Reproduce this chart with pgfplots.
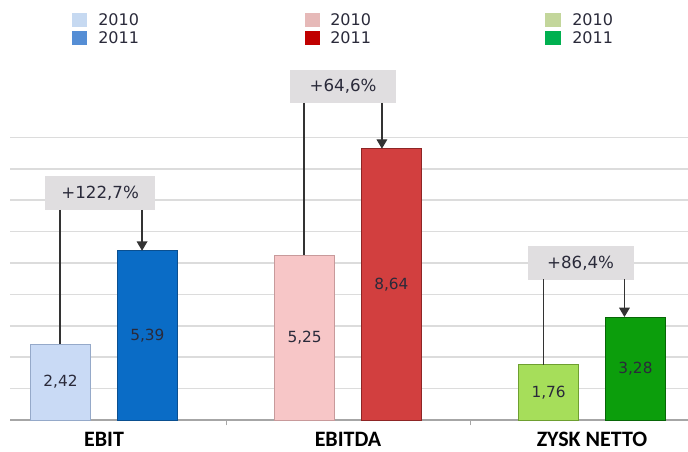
\documentclass[border=0pt]{standalone}
\usepackage{pgfplots}
\pgfplotsset{compat=1.18}
\usetikzlibrary{arrows.meta}
\usepackage{fontspec}
\setmainfont{DejaVu Sans}
\newfontfamily\carlito{Carlito}
\definecolor{axisgray}{HTML}{A6A6A6}
\definecolor{gridgray}{HTML}{DCDCDC}
\definecolor{boxgray}{HTML}{E0DEE0}
\definecolor{txt}{HTML}{2A2A3A}
\definecolor{ba}{HTML}{C9DAF5}\definecolor{bad}{HTML}{95A9C9}
\definecolor{bb}{HTML}{0A6CC6}\definecolor{bbd}{HTML}{0A4F90}
\definecolor{ra}{HTML}{F7C6C7}\definecolor{rad}{HTML}{C89A9B}
\definecolor{rb}{HTML}{D23F3F}\definecolor{rbd}{HTML}{8E2525}
\definecolor{ga}{HTML}{A6DE5A}\definecolor{gad}{HTML}{6E9F30}
\definecolor{gb}{HTML}{0C9E0C}\definecolor{gbd}{HTML}{076607}
\definecolor{lba}{HTML}{C6D9F1}\definecolor{lbb}{HTML}{558ED5}
\definecolor{lra}{HTML}{E6B9B8}\definecolor{lrb}{HTML}{C00000}
\definecolor{lga}{HTML}{C3D69B}\definecolor{lgb}{HTML}{00B050}
\begin{document}
\begin{tikzpicture}
\begin{axis}[
  anchor=origin, at={(78pt,-315pt)},
  x=183pt, y=23.55pt,
  xmin=-0.385, xmax=2.393, ymin=0, ymax=9,
  axis x line*=bottom, axis y line*=left,
  y axis line style={draw=none},
  x axis line style={draw=axisgray, line width=0.9pt},
  ytick={1,...,9}, yticklabels={}, ymajorgrids,
  grid style={draw=gridgray, line width=1.1pt},
  ytick style={draw=none},
  xtick={0,1,2}, xticklabels={EBIT,EBITDA,ZYSK NETTO},
  major tick length=0pt,
  extra x ticks={0.5,1.5}, extra x tick labels={},
  extra x tick style={major tick length=4pt, tick align=outside, tick style={draw=axisgray, line width=0.6pt}},
  xticklabel style={font=\carlito\bfseries\fontsize{16.5}{19}\selectfont, text=black, anchor=base, inner sep=0pt, yshift=-19.5pt},
  ybar, bar width=45pt,
  clip=false,
]
\addplot[ybar, bar shift=-32.6pt, fill=ba, draw=bad, line width=0.75pt] coordinates {(0,2.42)};
\addplot[ybar, bar shift=32.6pt, fill=bb, draw=bbd, line width=0.75pt] coordinates {(0,5.39)};
\addplot[ybar, bar shift=-32.6pt, fill=ra, draw=rad, line width=0.75pt] coordinates {(1,5.25)};
\addplot[ybar, bar shift=32.6pt, fill=rb, draw=rbd, line width=0.75pt] coordinates {(1,8.64)};
\addplot[ybar, bar shift=-32.6pt, fill=ga, draw=gad, line width=0.75pt] coordinates {(2,1.76)};
\addplot[ybar, bar shift=32.6pt, fill=gb, draw=gbd, line width=0.75pt] coordinates {(2,3.28)};

\tikzset{val/.style={font=\fontsize{11.5}{13}\selectfont, text=txt},
  pct/.style={fill=boxgray, inner sep=0pt, font=\fontsize{12.5}{14}\selectfont, text=txt, minimum height=25pt},
  conn/.style={draw=black!80, line width=0.9pt},
  arr/.style={draw=black!80, line width=0.9pt, -{Triangle[width=8pt,length=7pt]}}}

\node[val] at (axis cs:-0.178,1.21) {2,42};
\node[val] at (axis cs:0.178,2.695) {5,39};
\node[val] at (axis cs:0.822,2.625) {5,25};
\node[val] at (axis cs:1.178,4.32) {8,64};
\node[val] at (axis cs:1.822,0.88) {1,76};
\node[val] at (axis cs:2.178,1.64) {3,28};

\node[pct, minimum width=82.5pt] at (axis cs:-0.016,7.23) {+122,7\%};
\draw[conn] (axis cs:-0.18,6.69) -- (axis cs:-0.18,2.42);
\draw[arr] (axis cs:0.156,6.69) -- (axis cs:0.156,5.39);

\node[pct, minimum width=79.5pt] at (axis cs:0.98,10.62) {+64,6\%};
\draw[conn] (axis cs:0.82,10.1) -- (axis cs:0.82,5.25);
\draw[arr] (axis cs:1.139,10.1) -- (axis cs:1.139,8.64);

\node[pct, minimum width=79.5pt] at (axis cs:1.953,5.0) {+86,4\%};
\draw[conn] (axis cs:1.801,4.49) -- (axis cs:1.801,1.76);
\draw[arr] (axis cs:2.133,4.49) -- (axis cs:2.133,3.28);
\end{axis}
\begin{scope}[x=0.75pt,y=-0.75pt]
\tikzset{lt/.style={anchor=west, inner sep=0pt, font=\fontsize{12}{14}\selectfont, text=txt}}
\fill[lba] (72,13) rectangle (87,27); \node[lt] at (98,20) {2010};
\fill[lbb] (72,31) rectangle (87,45); \node[lt] at (98,38) {2011};
\fill[lra] (305,13) rectangle (320,27); \node[lt] at (330,20) {2010};
\fill[lrb] (305,31) rectangle (320,45); \node[lt] at (330,38) {2011};
\fill[lga] (545,13) rectangle (561,27); \node[lt] at (572,20) {2010};
\fill[lgb] (545,31) rectangle (561,45); \node[lt] at (572,38) {2011};
\pgfresetboundingbox
\path (0,0) rectangle (688,452);
\end{scope}
\end{tikzpicture}
\end{document}
